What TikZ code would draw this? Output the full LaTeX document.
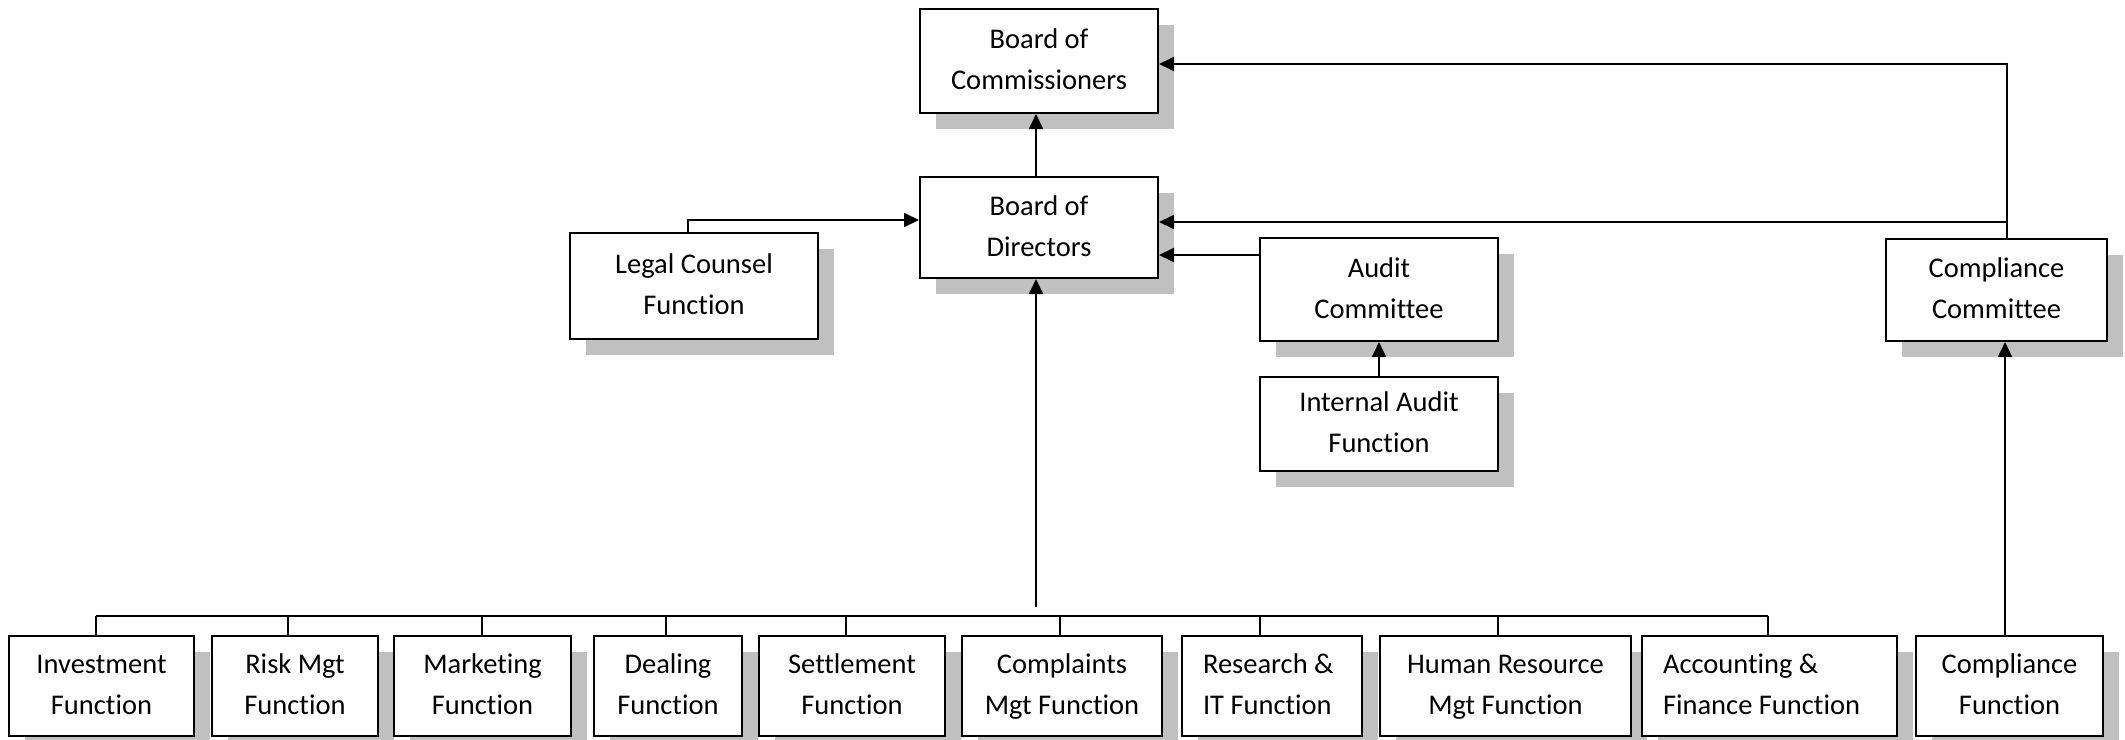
\documentclass[tikz,border=0pt]{standalone}
\usepackage{fontspec}
\setmainfont{Carlito}[Ligatures=NoCommon]
\usetikzlibrary{arrows.meta,shadows,calc}
\definecolor{shadowgray}{RGB}{192,192,192}
\newcommand\twoline[2]{\strut #1\\\strut #2}
\tikzset{
  box/.style={draw=black, line width=2pt, fill=white, inner sep=0pt, align=center,
    font=\fontsize{28.5}{41}\selectfont,
    drop shadow={shadow xshift=16pt, shadow yshift=-16pt, fill=shadowgray, opacity=1}},
  leftbox/.style={box, align=flush left, inner xsep=21pt},
  wire/.style={line width=2pt},
  arr/.style={line width=2pt, -{Triangle[length=15pt,width=14pt]}},
}
\begin{document}
\begin{tikzpicture}[x=1pt,y=1pt]
\clip (0,0) rectangle (2125,-739);
\useasboundingbox (0,0) rectangle (2125,-739);
% upper boxes
\node[box, minimum width=238pt, minimum height=104pt] (boc) at (1039,-61) {\twoline{Board of}{Commissioners}};
\node[box, minimum width=238pt, minimum height=101pt] (bod) at (1039,-227.5) {\twoline{Board of}{Directors}};
\node[box, minimum width=248pt, minimum height=106pt] (legal) at (694,-286) {\twoline{Legal Counsel}{Function}};
\node[box, minimum width=238pt, minimum height=103pt] (ac) at (1379,-289.5) {\twoline{Audit}{Committee}};
\node[box, minimum width=238pt, minimum height=94pt] (ia) at (1379,-424) {\twoline{Internal Audit}{Function}};
\node[box, minimum width=221pt, minimum height=102pt] (cc) at (1996.5,-290) {\twoline{Compliance}{Committee}};
% bottom boxes
\node[box, minimum width=185pt, minimum height=100pt] (inv) at (101.5,-686) {\twoline{Investment}{Function}};
\node[box, minimum width=166pt, minimum height=100pt] (risk) at (295,-686) {\twoline{Risk Mgt}{Function}};
\node[box, minimum width=177pt, minimum height=100pt] (mkt) at (482.5,-686) {\twoline{Marketing}{Function}};
\node[box, minimum width=148pt, minimum height=100pt] (deal) at (668,-686) {\twoline{Dealing}{Function}};
\node[box, minimum width=186pt, minimum height=100pt] (sett) at (852,-686) {\twoline{Settlement}{Function}};
\node[box, minimum width=200pt, minimum height=100pt] (comp) at (1062,-686) {\twoline{Complaints}{Mgt Function}};
\node[leftbox, text width=138pt, minimum width=180pt, minimum height=100pt] (res) at (1272,-686) {\twoline{Research \&}{IT Function}};
\node[box, minimum width=251pt, minimum height=100pt] (hr) at (1505.5,-686) {\twoline{Human Resource}{Mgt Function}};
\node[leftbox, text width=213pt, minimum width=255pt, minimum height=100pt] (acc) at (1769.5,-686) {\twoline{Accounting \&}{Finance Function}};
\node[box, minimum width=187pt, minimum height=100pt] (cf) at (2009.5,-686) {\twoline{Compliance}{Function}};
% connectors
\draw[arr] ([xshift=-3pt]bod.north) -- ([xshift=-3pt]boc.south);
\draw[arr] ([xshift=-6pt]legal.north) |- ([yshift=7.5pt]bod.west);
\draw[arr] ([yshift=34.5pt]ac.west) -- ([yshift=34.5pt]ac.west -| bod.east);
\draw[arr] ([xshift=10.5pt]cc.north) |- ([yshift=5.5pt]bod.east);
\draw[arr] ([xshift=10.5pt]cc.north) |- ([yshift=-3pt]boc.east);
\draw[arr] (ia.north) -- (ac.south);
\draw[arr] ([xshift=-4.5pt]cf.north) -- ([xshift=-4.5pt]cf.north |- cc.south);
% bus
\coordinate (busL) at (96,-616);
\coordinate (busR) at (1768,-616);
\coordinate (busarr) at (1036,-607);
\draw[wire] (busL) -- (busR);
\draw[arr] (busarr) -- (busarr |- bod.south);
\draw[wire] ([xshift=-5.5pt]inv.north) -- ([xshift=-5.5pt]inv.north |- busL);
\draw[wire] ([xshift=-7pt]risk.north) -- ([xshift=-7pt]risk.north |- busL);
\draw[wire] ([xshift=-0.5pt]mkt.north) -- ([xshift=-0.5pt]mkt.north |- busL);
\draw[wire] ([xshift=-2pt]deal.north) -- ([xshift=-2pt]deal.north |- busL);
\draw[wire] ([xshift=-6pt]sett.north) -- ([xshift=-6pt]sett.north |- busL);
\draw[wire] ([xshift=-2pt]comp.north) -- ([xshift=-2pt]comp.north |- busL);
\draw[wire] ([xshift=-12pt]res.north) -- ([xshift=-12pt]res.north |- busL);
\draw[wire] ([xshift=-7.5pt]hr.north) -- ([xshift=-7.5pt]hr.north |- busL);
\draw[wire] ([xshift=-1.5pt]acc.north) -- ([xshift=-1.5pt]acc.north |- busL);
\end{tikzpicture}
\end{document}
